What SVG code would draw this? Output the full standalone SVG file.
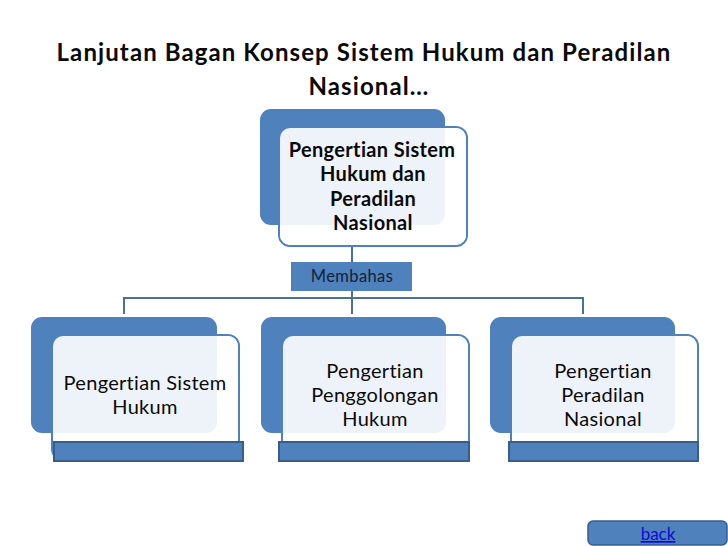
<svg xmlns="http://www.w3.org/2000/svg" width="728" height="546" viewBox="0 0 728 546">
<style>
text{font-family:"Lato","Carlito","Liberation Sans",sans-serif;text-anchor:middle;fill:#0a0a0a}
.title{font-size:24px;font-weight:700;letter-spacing:1.1px}
.b{font-size:20px;font-weight:700;letter-spacing:.35px}
.n{font-size:20px;letter-spacing:.3px}
.back{fill:#4f81bd}
.under{fill:#fff;stroke:#4f81bd;stroke-width:2}
.over{fill:#fff;fill-opacity:.9}
.bar{fill:#4f81bd;stroke:#385d8a;stroke-width:2}
.line{fill:none;stroke:#4a7193;stroke-width:2}
</style>
<rect width="728" height="546" fill="#fff"/>
<g id="title">
<text class="title" x="364" y="61">Lanjutan Bagan Konsep Sistem Hukum dan Peradilan</text>
<text class="title" x="369" y="95">Nasional…</text>
</g>
<g id="connectors">
<path class="line" d="M352 246V262M352 291V314M124 314V298H583V314"/>
</g>
<g id="node-top">
<rect class="under" x="279" y="127" width="188" height="119" rx="11"/>
<rect class="back" x="260" y="109" width="185" height="116" rx="11"/>
<rect class="over" x="280" y="128" width="186" height="117" rx="10"/>
<text class="b" x="372" y="157">Pengertian Sistem</text>
<text class="b" x="373" y="181">Hukum dan</text>
<text class="b" x="373" y="206">Peradilan</text>
<text class="b" x="373" y="230">Nasional</text>
</g>
<g id="node-membahas">
<rect x="291" y="262" width="121" height="29" fill="#4f81bd"/>
<text x="352" y="282" font-size="16.5" letter-spacing=".4" style="fill:#0f2238">Membahas</text>
</g>
<g id="node-sistem-hukum">
<rect class="under" x="52" y="335" width="187" height="125" rx="11"/>
<rect class="back" x="31" y="317" width="186" height="116" rx="11"/>
<rect class="over" x="53" y="336" width="185" height="123" rx="10"/>
<rect class="bar" x="54" y="442" width="189" height="19"/>
<text class="n" x="145" y="390">Pengertian Sistem</text>
<text class="n" x="145" y="414">Hukum</text>
</g>
<g id="node-penggolongan">
<rect class="under" x="282" y="335" width="187" height="125" rx="11"/>
<rect class="back" x="261" y="317" width="185" height="116" rx="11"/>
<rect class="over" x="283" y="336" width="185" height="123" rx="10"/>
<rect class="bar" x="279" y="442" width="190" height="19"/>
<text class="n" x="375" y="378">Pengertian</text>
<text class="n" x="375" y="402">Penggolongan</text>
<text class="n" x="375" y="426">Hukum</text>
</g>
<g id="node-peradilan">
<rect class="under" x="511" y="335" width="187" height="125" rx="11"/>
<rect class="back" x="490" y="317" width="185" height="116" rx="11"/>
<rect class="over" x="512" y="336" width="185" height="123" rx="10"/>
<rect class="bar" x="509" y="442" width="189" height="19"/>
<text class="n" x="603" y="378">Pengertian</text>
<text class="n" x="603" y="402">Peradilan</text>
<text class="n" x="603" y="426">Nasional</text>
</g>
<g id="node-back">
<rect x="588" y="521" width="139" height="24" rx="5" fill="#4f81bd" stroke="#385d8a" stroke-width="1.5"/>
<text x="658" y="540" font-size="17" text-decoration="underline" style="fill:#0b0bd8">back</text>
</g>
</svg>
